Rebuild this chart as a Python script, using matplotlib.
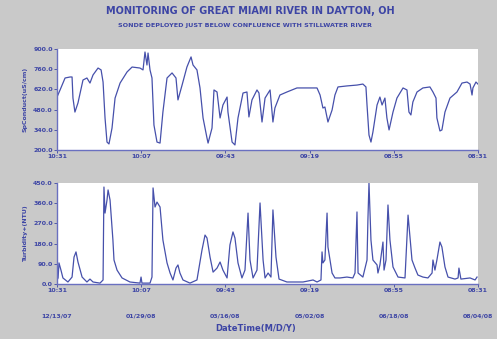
import matplotlib
matplotlib.use("Agg")
import matplotlib.pyplot as plt

# days since 12/13/07 10:31
spc_days = [0, 1.7, 4.5, 7.3, 8.4, 8.9, 10.0, 11.7, 14.5, 16.7, 18.4, 20.1, 22.9, 24.6, 25.7,
            26.8, 27.9, 29.0, 30.7, 32.4, 35.2, 39.1, 41.9, 46.3, 48.0, 49.1, 50.2, 50.8, 51.9,
            53.0, 54.1, 55.8, 57.5, 59.1, 61.4, 64.2, 66.4, 67.5, 69.8, 72.5, 74.8, 75.9, 78.1,
            79.8, 81.5, 83.7, 84.3, 86.5, 87.6, 89.3, 91.0, 92.6, 94.9, 95.4, 97.7, 99.3, 101.0,
            103.8, 106.0, 107.1, 108.8, 111.6, 112.7, 114.4, 116.1, 118.9, 120.5, 121.6, 124.4,
            128.3, 133.9, 141.2, 145.1, 146.8, 148.4, 149.5, 151.2, 153.5, 155.1, 156.8, 161.8,
            167.4, 170.7, 172.4, 173.0, 174.1, 175.2, 176.3, 178.6, 180.2, 181.4, 183.0, 184.1,
            185.3, 187.5, 189.7, 193.1, 195.3, 196.4, 197.5, 198.6, 200.9, 204.2, 208.1, 209.8,
            211.5, 212.0, 213.7, 214.8, 216.5, 219.3, 223.2, 226.0, 228.8, 230.5, 231.6, 232.1,
            233.8, 234.9]
spc_vals = [567, 616, 699, 706, 706, 560, 463, 526, 685, 699, 664, 720, 768, 755, 671,
            422, 255, 242, 352, 560, 664, 741, 775, 768, 755, 879, 789, 872, 755,
            699, 373, 255, 248, 463, 699, 734, 699, 547, 650, 775, 845, 789, 755,
            630, 422, 283, 248, 352, 616, 602, 422, 512, 567, 463, 255, 235, 422,
            595, 602, 429, 547, 616, 595, 394, 560, 616, 394, 491, 581,
            602, 630, 630, 630, 581, 491, 498, 394, 477, 581, 637, 644,
            650, 657, 637, 512, 304, 255, 325, 512, 567, 512, 560, 422,
            339, 463, 560, 630, 616, 463, 443, 533, 602, 630, 637, 602,
            560, 422, 332, 339, 463, 560, 602, 664, 671, 657, 581, 630,
            671, 657]

turb_days = [0, 0.6, 1.1, 2.2, 3.3, 6.1, 8.4, 9.5, 10.6, 11.7, 14.0, 16.7, 18.4, 20.1, 24.0,
             25.7, 26.2, 26.8, 27.9, 28.5, 29.6, 31.2, 31.8, 33.5, 36.3, 40.7, 46.3, 46.9, 47.4,
             51.9, 53.0, 53.6, 54.7, 55.8, 57.5, 59.1, 61.4, 63.1, 64.7, 66.4, 67.5, 68.6, 70.3,
             74.2, 78.1, 80.9, 82.6, 83.7, 85.4, 87.1, 89.3, 91.0, 92.6, 94.9, 96.5, 98.2, 99.3,
             101.0, 103.2, 104.9, 106.6, 107.7, 109.4, 111.6, 113.3, 115.0, 116.1, 117.8, 119.4,
             120.5, 122.2, 123.9, 128.3, 137.3, 142.9, 145.1, 147.3, 147.9, 148.4, 149.5, 150.7,
             151.2, 153.5, 155.1, 157.9, 161.8, 165.1, 166.3, 167.4, 168.0, 170.7, 173.0, 173.5,
             174.1, 175.2, 176.3, 178.6, 179.1, 180.2, 181.9, 182.5, 183.6, 184.7, 185.8, 187.5,
             190.3, 194.2, 195.9, 198.1, 199.8, 201.4, 204.2, 207.0, 209.3, 209.8, 210.9, 212.0,
             213.7, 214.8, 216.5, 218.2, 222.1, 223.8, 224.3, 225.4, 230.5, 233.3, 234.4]
turb_vals = [18, 27, 94, 62, 27, 9, 31, 120, 143, 98, 31, 9, 22, 9, 4,
             18, 432, 316, 374, 419, 374, 196, 107, 62, 27, 9, 4, 31, 4,
             4, 31, 428, 343, 365, 343, 196, 94, 49, 18, 71, 85, 49, 18,
             4, 18, 151, 218, 205, 120, 53, 71, 98, 62, 27, 174, 232, 205,
             94, 27, 62, 316, 107, 27, 62, 361, 107, 27, 49, 31,
             330, 120, 22, 9, 9, 18, 9, 18, 143, 94, 107, 316,
             165, 49, 27, 27, 31, 27, 49, 321, 49, 31, 107, 285,
             450, 196, 107, 85, 49, 85, 187, 62, 107, 352, 196, 76,
             31, 27, 307, 107, 71, 40, 31, 27, 49, 107, 62, 107,
             187, 165, 76, 31, 22, 27, 71, 22, 27, 18, 31]

step = 46.9833
tick_times = ["10:31", "10:07", "09:43", "09:19", "08:55", "08:31"]
tick_dates = ["12/13/07", "01/29/08", "03/16/08", "05/02/08", "06/18/08", "08/04/08"]
spc_ticks = [200, 340, 480, 620, 760, 900]
turb_ticks = [0, 90, 180, 270, 360, 450]

blue = "#3d45a5"
line_c = "#4650ab"
bg = "#c9c9c9"

fig = plt.figure(figsize=(4.97, 3.39), dpi=100, facecolor=bg)
ax1 = fig.add_axes([0.1147, 0.5575, 0.847, 0.298])
ax2 = fig.add_axes([0.1147, 0.1622, 0.847, 0.298])

xt = [i * step for i in range(6)]
for ax, d, v, yt, lab in [(ax1, spc_days, spc_vals, spc_ticks, "SpConduct(uS/cm)"),
                          (ax2, turb_days, turb_vals, turb_ticks, "Turbidity+(NTU)")]:
    ax.plot(d, v, color=line_c, lw=0.9)
    ax.set_xlim(0, 5 * step)
    ax.set_ylim(yt[0], yt[-1])
    ax.set_yticks(yt)
    ax.set_yticklabels(["%.1f" % t for t in yt])
    ax.set_xticks(xt)
    ax.set_xticklabels(tick_times)
    for s in ["top", "right"]:
        ax.spines[s].set_visible(False)
    for s in ["left", "bottom"]:
        ax.spines[s].set_color("#6a70c0")
        ax.spines[s].set_linewidth(1.0)
    ax.tick_params(colors=blue, labelsize=4.5, length=2, width=0.6, pad=1)
    for t in ax.get_xticklabels() + ax.get_yticklabels():
        t.set_fontweight("bold")
        t.set_color(blue)
    ax.set_ylabel(lab, fontsize=4.5, color=blue, fontweight="bold", labelpad=4)

for x, s in zip(xt, tick_dates):
    ax2.text(x, -0.32, s, transform=ax2.get_xaxis_transform(), ha="center", va="center",
             fontsize=4.5, fontweight="bold", color=blue)
fig.text(0.515, 0.032, "DateTime(M/D/Y)", ha="center", va="center", fontsize=6,
         fontweight="bold", color=blue)

fig.text(0.503, 0.967, "MONITORING OF GREAT MIAMI RIVER IN DAYTON, OH", ha="center",
         va="center", fontsize=7, fontweight="bold", color=blue)
fig.text(0.492, 0.926, "SONDE DEPLOYED JUST BELOW CONFLUENCE WITH STILLWATER RIVER",
         ha="center", va="center", fontsize=4.6, fontweight="bold", color=blue)

fig.savefig("out.png", dpi=100, facecolor=bg)
